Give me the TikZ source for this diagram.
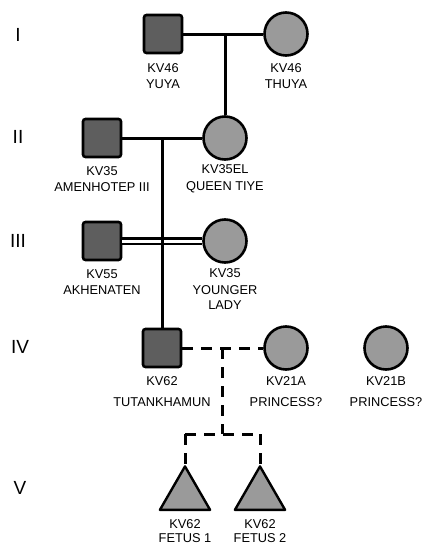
\documentclass[tikz,border=0pt]{standalone}
\usepackage{fontspec}
\setmainfont{Liberation Sans}
\usetikzlibrary{shapes.geometric}
\definecolor{malefill}{HTML}{5E5E5E}
\definecolor{femfill}{HTML}{9A9A9A}
\begin{document}
\begin{tikzpicture}[x=1pt,y=-1pt,
  male/.style={draw=black,line width=2.6pt,fill=malefill,rounded corners=2.5pt,minimum size=38pt,inner sep=0pt},
  female/.style={draw=black,line width=2.6pt,fill=femfill,circle,minimum size=43pt,inner sep=0pt},
  fetus/.style={draw=black,line width=2.4pt,fill=femfill,regular polygon,regular polygon sides=3,minimum size=58pt,inner sep=0pt,line join=round},
  lbl/.style={font=\fontsize{12.8}{15}\selectfont,align=center,inner sep=0pt},
  gen/.style={font=\fontsize{19}{22}\selectfont,inner sep=0pt},
  rel/.style={line width=3pt},
  drel/.style={line width=3pt,dash pattern=on 11pt off 8pt}
]
\useasboundingbox (0,0) rectangle (423,546);
% generation numerals
\node[gen] (g1) at (18,35) {I};
\node[gen] (g2) at (18,137) {II};
\node[gen] (g3) at (18,241) {III};
\node[gen] (g4) at (20,347) {IV};
\node[gen] (g5) at (20,488) {V};
% generation I
\node[male] (yuya) at (163,34) {};
\node[female] (thuya) at (286,34) {};
\node[lbl] (lyuya) at (163,76) {KV46\\[1.6pt]YUYA};
\node[lbl] (lthuya) at (286,76) {KV46\\[1.6pt]THUYA};
% generation II
\node[male] (amen) at (102,138) {};
\node[female] (tiye) at (225,138) {};
\node[lbl] (lamen) at (102,179) {KV35\\[1.6pt]AMENHOTEP III};
\node[lbl] (ltiye) at (225,179) {KV35EL\\[1.6pt]QUEEN TIYE};
% generation III
\node[male] (akh) at (102,241) {};
\node[female] (yl) at (225,241) {};
\node[lbl] (lakh) at (102,282) {KV55\\[1.6pt]AKHENATEN};
\node[lbl] (lyl) at (225,289) {KV35\\[1.6pt]YOUNGER\\LADY};
% generation IV
\node[male] (tut) at (162,348) {};
\node[female] (k21a) at (286,348) {};
\node[female] (k21b) at (386,348) {};
\node[lbl] (ltut) at (162,381) {KV62};
\node[lbl] (ltut2) at (162,402) {TUTANKHAMUN};
\node[lbl] (lk21a) at (286,381) {KV21A};
\node[lbl] (lk21a2) at (286,402) {PRINCESS?};
\node[lbl] (lk21b) at (386,381) {KV21B};
\node[lbl] (lk21b2) at (386,402) {PRINCESS?};
% generation V
\node[fetus,anchor=corner 1] (f1) at (185,464) {};
\node[fetus,anchor=corner 1] (f2) at (260,464) {};
\node[lbl,anchor=base] (lf1) at (185,528) {KV62};
\node[lbl,anchor=base] (lf1b) at (185,542.5) {FETUS 1};
\node[lbl,anchor=base] (lf2) at (260,528) {KV62};
\node[lbl,anchor=base] (lf2b) at (260,542.5) {FETUS 2};
% coordinates
\coordinate (m1) at (225,34);
\coordinate (m2) at (162,138);
\coordinate (m4) at (222,348);
\coordinate (s4) at (222,434);
\coordinate (s4a) at (185,434);
\coordinate (s4b) at (260,434);
% connectors
\draw[rel] (yuya.east) -- (thuya.west);
\draw[rel] (m1) -- (tiye.north);
\draw[rel] (amen.east) -- (tiye.west);
\draw[line width=2.4pt,double=white,double distance=3pt] (akh.east) -- (yl.west);
\draw[rel] (m2) -- (tut.north);
\draw[drel] (tut.east) -- (k21a.west);
\draw[drel] (m4) -- (s4);
\draw[drel] (s4a) -- (s4b);
\draw[drel] (s4a) -- (f1.corner 1);
\draw[drel] (s4b) -- (f2.corner 1);
\end{tikzpicture}
\end{document}
